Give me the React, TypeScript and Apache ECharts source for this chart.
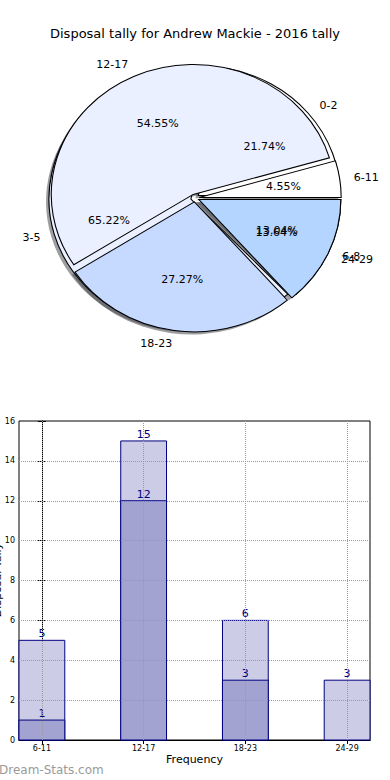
import React, { useEffect, useRef } from "react";
import * as echarts from "echarts";

// ---- data ----
const titleText = "Disposal tally for Andrew Mackie - 2016 tally";
// top pie (2016 tally)
const pieNamesA = ["6-11", "12-17", "18-23", "24-29"];
const pieValuesA = [1, 12, 6, 3];
const pieColorsA = ["#ffffff", "#eaf0ff", "#c6d9ff", "#b4d5ff"];
// bottom pie
const pieNamesB = ["0-2", "3-5", "6-8"];
const pieValuesB = [5, 15, 3];
const pieColorsB = ["#ffffff", "#eaf0ff", "#b4d5ff"];
// bar chart
const barCategories = ["6-11", "12-17", "18-23", "24-29"];
const barLight = [5, 15, 6, 3];
const barDark: (number | null)[] = [1, 12, 3, null];
const yTicks = [0, 2, 4, 6, 8, 10, 12, 14, 16];

const FONT = "DejaVu Sans";
const PIE = { cx: 195, cy: 198, rx: 142, ry: 130 };
const BAR_HALF = 0.225;

function makePie(values: number[], names: string[], colors: string[], explode: number, z2: number) {
  const total = values.reduce((a, b) => a + b, 0);
  const starts: number[] = [];
  let acc = 0;
  values.forEach((v) => {
    starts.push(acc);
    acc += v / total;
  });
  return {
    type: "custom",
    coordinateSystem: "none",
    silent: true,
    data: values.map((v, i) => ({ value: v, name: names[i] })),
    renderItem: (params: any, api: any) => {
      const i = params.dataIndex;
      const v = api.value(0);
      const a0 = starts[i] * Math.PI * 2;
      const a1 = (starts[i] + v / total) * Math.PI * 2;
      const mid = (a0 + a1) / 2;
      const c = Math.cos(mid);
      const s = Math.sin(mid);
      const ox = PIE.cx + explode * PIE.rx * c;
      const oy = PIE.cy - explode * PIE.ry * s;
      const shape = { cx: 0, cy: 0, r0: 0, r: PIE.ry, startAngle: -a0, endAngle: -a1, clockwise: false };
      const sx = PIE.rx / PIE.ry;
      const lx = ox + 1.1 * PIE.rx * c;
      const ly = oy - 1.1 * PIE.ry * s;
      const px = ox + 0.6 * PIE.rx * c;
      const py = oy - 0.6 * PIE.ry * s;
      return {
        type: "group",
        children: [
          {
            type: "sector",
            x: ox - 2.9,
            y: oy + 2.7,
            scaleX: sx,
            shape,
            z2: 0,
            style: { fill: "rgba(60,62,70,0.5)", stroke: "none" },
          },
          {
            type: "sector",
            x: ox,
            y: oy,
            scaleX: sx,
            shape,
            z2,
            style: { fill: colors[i], stroke: "#000", lineWidth: 1, strokeNoScale: true },
          },
          {
            type: "text",
            x: lx,
            y: ly,
            z2: 10,
            style: {
              text: names[i],
              fill: "#000",
              fontSize: 11,
              fontFamily: FONT,
              align: c >= 0 ? "left" : "right",
              verticalAlign: "middle",
            },
          },
          {
            type: "text",
            x: px,
            y: py,
            z2: 10,
            style: {
              text: ((v / total) * 100).toFixed(2) + "%",
              fill: "#000",
              fontSize: 11,
              fontFamily: FONT,
              align: "center",
              verticalAlign: "middle",
            },
          },
        ],
      };
    },
  };
}

function makeBars(values: (number | null)[], fill: string, z: number) {
  return {
    type: "custom",
    xAxisIndex: 0,
    yAxisIndex: 0,
    z,
    silent: true,
    data: values.map((v, i) => [i, v]).filter((d) => d[1] != null),
    renderItem: (params: any, api: any) => {
      const x = api.value(0);
      const y = api.value(1);
      const p0 = api.coord([x - BAR_HALF, 0]);
      const p1 = api.coord([x + BAR_HALF, y]);
      return {
        type: "group",
        children: [
          {
            type: "rect",
            shape: { x: p0[0], y: p1[1], width: p1[0] - p0[0], height: p0[1] - p1[1] },
            style: { fill, stroke: "#000080", lineWidth: 1 },
          },
          {
            type: "text",
            x: (p0[0] + p1[0]) / 2,
            y: p1[1] - 1,
            style: {
              text: String(y),
              fill: "#000080",
              fontSize: 11,
              fontFamily: FONT,
              align: "center",
              verticalAlign: "bottom",
            },
          },
        ],
      };
    },
  };
}

const gridLine = { type: "dotted", color: "#9a9a9a", width: 1 };

export default function App() {
  const ref = useRef<HTMLDivElement>(null);
  useEffect(() => {
    document.body.style.margin = "0";
    const chart = echarts.init(ref.current!, null, { renderer: "svg" });
    const xTickVals = barCategories.map((_, i) => i);
    const yMax = yTicks[yTicks.length - 1];
    const option: any = {
      animation: false,
      title: {
        text: titleText,
        left: "center",
        top: 22,
        textStyle: { fontSize: 13, fontWeight: "normal", color: "#000", fontFamily: FONT },
      },
      graphic: [
        {
          type: "text",
          left: -1,
          top: 764,
          style: { text: "Dream-Stats.com", fill: "#9a9a9a", fontSize: 12, fontFamily: FONT },
        },
        {
          type: "text",
          x: -3,
          y: 580,
          rotation: Math.PI / 2,
          style: {
            text: "Disposal Tally",
            fill: "#000",
            fontSize: 11,
            fontFamily: FONT,
            align: "center",
            verticalAlign: "middle",
          },
        },
      ],
      grid: { left: 19, right: 20, top: 421, bottom: 40, show: true, borderColor: "#000", borderWidth: 1 },
      xAxis: [
        {
          type: "value",
          min: -BAR_HALF,
          max: barCategories.length - 1 + BAR_HALF,
          name: "Frequency",
          nameLocation: "middle",
          nameGap: 14,
          nameTextStyle: { fontSize: 11, color: "#000", fontFamily: FONT },
          axisLine: { show: true, lineStyle: { color: "#000" } },
          axisTick: { show: true, inside: true, length: 4, customValues: xTickVals, lineStyle: { color: "#000" } },
          axisLabel: {
            customValues: xTickVals,
            formatter: (v: number) => barCategories[Math.round(v)] ?? "",
            fontSize: 8,
            color: "#000",
            margin: 4,
            fontFamily: FONT,
          },
          splitLine: { show: false },
        },
        {
          type: "value",
          position: "top",
          min: -BAR_HALF,
          max: barCategories.length - 1 + BAR_HALF,
          axisLine: { show: true, lineStyle: { color: "#000" } },
          axisTick: { show: true, inside: true, length: 4, customValues: xTickVals, lineStyle: { color: "#000" } },
          axisLabel: { show: false, customValues: xTickVals },
          splitLine: { show: false },
        },
      ],
      yAxis: [
        {
          type: "value",
          min: 0,
          max: yMax,
          interval: 2,
          axisLine: { show: true, lineStyle: { color: "#000" } },
          axisTick: { show: true, inside: true, length: 4, lineStyle: { color: "#000" } },
          axisLabel: { fontSize: 8, color: "#000", margin: 4, fontFamily: FONT },
          splitLine: { show: false },
        },
        {
          type: "value",
          position: "right",
          min: 0,
          max: yMax,
          interval: 2,
          axisLine: { show: true, lineStyle: { color: "#000" } },
          axisTick: { show: true, inside: true, length: 4, lineStyle: { color: "#000" } },
          axisLabel: { show: false },
          splitLine: { show: false },
        },
      ],
      series: [
        makePie(pieValuesB, pieNamesB, pieColorsB, 0.03, 1),
        makePie(pieValuesA, pieNamesA, pieColorsA, 0.03, 2),
        makeBars(barLight, "rgb(204,204,230)", 2),
        makeBars(barDark, "rgb(163,163,210)", 3),
        {
          type: "line",
          xAxisIndex: 0,
          yAxisIndex: 0,
          z: 5,
          data: [],
          markLine: {
            silent: true,
            symbol: "none",
            label: { show: false },
            lineStyle: gridLine,
            data: [
              ...xTickVals.map((x) => [{ coord: [x, 0] }, { coord: [x, yMax] }]),
              ...yTicks
                .filter((y) => y > 0 && y < yMax)
                .map((y) => [{ coord: [-BAR_HALF, y] }, { coord: [barCategories.length - 1 + BAR_HALF, y] }]),
            ],
          },
        },
      ],
    };
    chart.setOption(option);
    return () => chart.dispose();
  }, []);
  return <div ref={ref} style={{ width: 390, height: 780 }} />;
}
